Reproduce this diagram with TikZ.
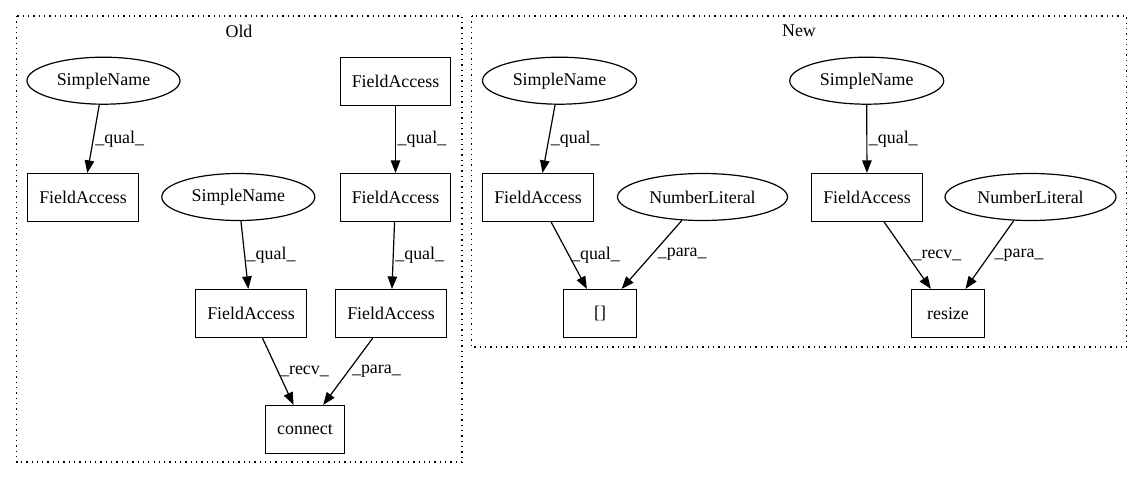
\documentclass[tikz,border=0pt]{standalone}
\usepackage{fontspec}
\setmainfont{Liberation Serif}
\usepackage{tikz}
\usetikzlibrary{arrows.meta, shapes.geometric}
\tikzset{>={Triangle[length=12.5pt, width=9.5pt]}}
\tikzset{
  fabox/.style = {draw, line width=1.2pt, rectangle, minimum width=111pt, minimum height=48pt, inner sep=0pt, font=\fontsize{17.9}{20}\selectfont},
  opbox/.style = {draw, line width=1.2pt, rectangle, minimum height=48pt, inner sep=0pt, font=\fontsize{17.9}{20}\selectfont},
  leaf/.style = {draw, line width=1.2pt, ellipse, minimum height=47pt, inner sep=0pt, font=\fontsize{17.9}{20}\selectfont},
  edgelbl/.style = {midway, anchor=west, inner sep=0pt, xshift=1.5pt, font=\fontsize{17.9}{20}\selectfont},
  link/.style = {line width=1.2pt},
  cluster/.style = {line width=1.3pt, dash pattern=on 1.3pt off 4pt}
}

\begin{document}
\begin{tikzpicture}[x=1pt, y=-1pt]
\useasboundingbox (0,0) rectangle (1143,480);

% clusters
\draw[cluster] (16.5,16) rectangle (462,462);
\node[font=\fontsize{17.9}{20}\selectfont] (oldlbl) at (239,31) {Old};
\draw[cluster] (471.5,16) rectangle (1126.5,347);
\node[font=\fontsize{17.9}{20}\selectfont] (newlbl) at (799,31) {New};

% old
\node[leaf, minimum width=153pt] (sn1) at (103.5,80.7) {SimpleName};
\node[fabox] (fa1) at (83,197.5) {FieldAccess};
\node[fabox, minimum width=110pt] (fa2) at (395.5,81.5) {FieldAccess};
\node[fabox, minimum width=110pt] (fa3) at (395.5,197.5) {FieldAccess};
\node[leaf, minimum width=153pt] (sn2) at (238.3,197) {SimpleName};
\node[fabox] (fa4) at (251,313.5) {FieldAccess};
\node[fabox] (fa5) at (391,313.5) {FieldAccess};
\node[opbox, minimum width=79pt] (conn) at (305,429.5) {connect};

\draw[->, link] (sn1) -- node[edgelbl] {\_qual\_} (fa1);
\draw[->, link] (fa2) -- node[edgelbl] {\_qual\_} (fa3);
\draw[->, link] (sn2) -- node[edgelbl] {\_qual\_} (fa4);
\draw[->, link] (fa3) -- node[edgelbl] {\_qual\_} (fa5);
\draw[->, link] (fa4) -- node[edgelbl] {\_recv\_} (conn);
\draw[->, link] (fa5) -- node[edgelbl, xshift=2pt] {\_para\_} (conn);

% new
\node[leaf, minimum width=154pt] (sn3) at (559.5,80.7) {SimpleName};
\node[fabox] (fa6) at (538,197.5) {FieldAccess};
\node[leaf, minimum width=170pt] (nl1) at (702.5,197) {NumberLiteral};
\node[opbox, minimum width=73pt] (idx) at (600,313.5) {[]};
\node[leaf, minimum width=154pt] (sn4) at (866.7,80.7) {SimpleName};
\node[fabox] (fa7) at (867,197.5) {FieldAccess};
\node[leaf, minimum width=171pt] (nl2) at (1030.5,197) {NumberLiteral};
\node[opbox, minimum width=73pt] (rsz) at (948,313.5) {resize};

\draw[->, link] (sn3) -- node[edgelbl] {\_qual\_} (fa6);
\draw[->, link] (fa6) -- node[edgelbl] {\_qual\_} (idx);
\draw[->, link] (nl1) -- node[edgelbl, xshift=4pt] {\_para\_} (idx);
\draw[->, link] (sn4) -- node[edgelbl] {\_qual\_} (fa7);
\draw[->, link] (fa7) -- node[edgelbl, xshift=3pt] {\_recv\_} (rsz);
\draw[->, link] (nl2) -- node[edgelbl, xshift=3pt] {\_para\_} (rsz);

\end{tikzpicture}
\end{document}
